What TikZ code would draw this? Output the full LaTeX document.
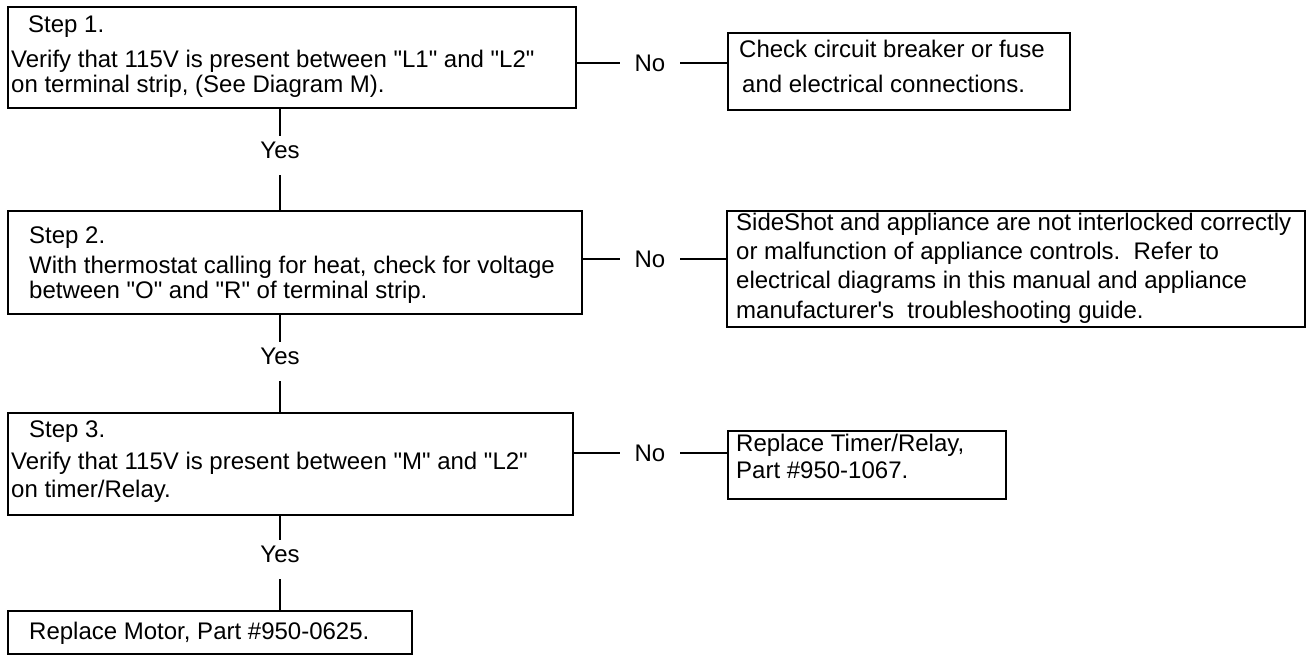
\documentclass[tikz,border=0pt]{standalone}
\usepackage{fontspec}
\newfontfamily\arialfont{Liberation Sans}
\begin{document}
\begin{tikzpicture}[x=1pt,y=-1pt,
  every node/.style={font=\arialfont\fontsize{24pt}{28pt}\selectfont},
  box/.style={draw,line width=1.6pt,inner sep=0pt,anchor=north west},
  txt/.style={anchor=base west,inner sep=0pt},
  nolab/.style={inner xsep=14.5pt,inner ysep=0pt},
  yeslab/.style={anchor=north,inner sep=0pt,text height=22pt,text depth=17pt},
  conn/.style={line width=1.6pt}]
\useasboundingbox (0,0) rectangle (1307,654);
% boxes
\node[box,minimum width=568pt,minimum height=101pt] (s1) at (7,6) {};
\node[box,minimum width=342pt,minimum height=77pt] (r1) at (727,32) {};
\node[box,minimum width=574pt,minimum height=103pt] (s2) at (7,210) {};
\node[box,minimum width=578pt,minimum height=116pt] (r2) at (726,210) {};
\node[box,minimum width=565pt,minimum height=102pt] (s3) at (7,412) {};
\node[box,minimum width=278pt,minimum height=68pt] (r3) at (727,430) {};
\node[box,minimum width=404pt,minimum height=43pt] (s4) at (7,610) {};
% texts
\node[txt] (t1a) at (28,32) {Step 1.};
\node[txt] (t1b) at (11,67) {Verify that 115V is present between "L1" and "L2"};
\node[txt] (t1c) at (11,92) {on terminal strip, (See Diagram M).};
\node[txt] (u1a) at (739,57) {Check circuit breaker or fuse};
\node[txt] (u1b) at (742,92) {and electrical connections.};
\node[txt] (t2a) at (29,243) {Step 2.};
\node[txt] (t2b) at (29,273) {With thermostat calling for heat, check for voltage};
\node[txt] (t2c) at (29,298) {between "O" and "R" of terminal strip.};
\node[txt] (u2a) at (736,230) {SideShot and appliance are not interlocked correctly};
\node[txt] (u2b) at (736,259) {or malfunction of appliance controls.~~Refer to};
\node[txt] (u2c) at (736,288) {electrical diagrams in this manual and appliance};
\node[txt] (u2d) at (736,318) {manufacturer's~~troubleshooting guide.};
\node[txt] (t3a) at (29,437) {Step 3.};
\node[txt] (t3b) at (11,469) {Verify that 115V is present between "M" and "L2"};
\node[txt] (t3c) at (11,497) {on timer/Relay.};
\node[txt] (u3a) at (736,451) {Replace Timer/Relay,};
\node[txt] (u3b) at (736,478) {Part \#950-1067.};
\node[txt] (t4a) at (29,639) {Replace Motor, Part \#950-0625.};
% No labels
\node[nolab] (n1) at (650,63) {No};
\node[nolab] (n2) at (650,259) {No};
\node[nolab] (n3) at (650,453) {No};
\draw[conn] (n1.west -| s1.east) -- (n1.west);
\draw[conn] (n1.east) -- (n1.east -| r1.west);
\draw[conn] (n2.west -| s2.east) -- (n2.west);
\draw[conn] (n2.east) -- (n2.east -| r2.west);
\draw[conn] (n3.west -| s3.east) -- (n3.west);
\draw[conn] (n3.east) -- (n3.east -| r3.west);
% Yes labels
\node[yeslab] (y1) at (280,136) {Yes};
\node[yeslab] (y2) at (280,342) {Yes};
\node[yeslab] (y3) at (280,540) {Yes};
\draw[conn] (y1.north |- s1.south) -- (y1.north);
\draw[conn] (y1.south) -- (y1.south |- s2.north);
\draw[conn] (y2.north |- s2.south) -- (y2.north);
\draw[conn] (y2.south) -- (y2.south |- s3.north);
\draw[conn] (y3.north |- s3.south) -- (y3.north);
\draw[conn] (y3.south) -- (y3.south |- s4.north);
\end{tikzpicture}
\end{document}
